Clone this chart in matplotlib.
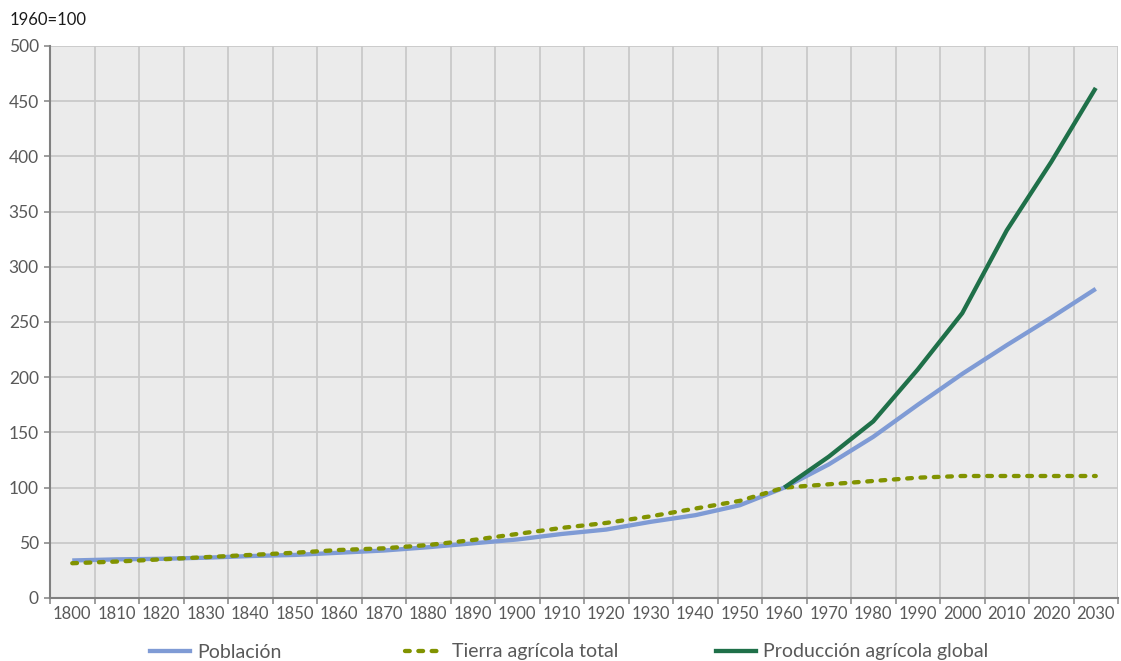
import matplotlib
matplotlib.use("Agg")
import matplotlib.pyplot as plt
from matplotlib.lines import Line2D

plt.rcParams['font.family'] = ['Lato', 'DejaVu Sans']

years = list(range(1800, 2031, 10))

poblacion = [34, 35, 35.5, 36.5, 38, 39, 41, 43, 46, 49.5, 53, 58, 62, 69, 75, 84,
             100, 121, 146, 175, 203, 229, 254, 280]
tierra = [31.5, 33, 35, 37, 39, 41, 43.5, 45, 48, 52.5, 58, 63.5, 68, 74, 81, 88,
          100, 103, 106, 109, 110.5, 110.5, 110.5, 110.5]
prod_years = [1960, 1970, 1980, 1990, 2000, 2010, 2020, 2030]
produccion = [100, 128, 160, 207, 258, 333, 395, 462]

c_pob = '#7F9BD5'
c_tierra = '#819300'
c_prod = '#1F7049'
txt_grey = '#595959'
dash = (0, (1.1, 2.0))
lw = 3.1

fig = plt.figure(figsize=(11.21, 6.61), dpi=100)
ax = fig.add_axes([50 / 1121, 1 - 598 / 661, 1068 / 1121, 552 / 661])
ax.set_facecolor('#EBEBEB')

xpos = [i + 0.5 for i in range(len(years))]
prod_x = [years.index(y) + 0.5 for y in prod_years]

ax.plot(xpos, poblacion, color=c_pob, lw=lw, solid_capstyle='butt', zorder=3)
ax.plot(xpos, tierra, color=c_tierra, lw=lw, linestyle=dash,
        dash_capstyle='round', zorder=4)
ax.plot(prod_x, produccion, color=c_prod, lw=lw, solid_capstyle='butt', zorder=5)

ax.set_xlim(0, len(years))
ax.set_ylim(0, 500)

# category boundaries carry the gridlines, centres carry the labels
ax.set_xticks(range(len(years) + 1))
ax.set_xticklabels([])
ax.set_xticks(xpos, minor=True)
ax.set_xticklabels([str(y) for y in years], minor=True)
ax.tick_params(axis='x', which='major', length=4, width=1.2, color='#8C8C8C', direction='out')
ax.tick_params(axis='x', which='minor', length=0, pad=6, labelsize=12, labelcolor=txt_grey)

ax.set_yticks(range(0, 501, 50))
ax.tick_params(axis='y', length=4, width=1.2, color='#8C8C8C', pad=4,
               labelsize=12.5, labelcolor=txt_grey)

ax.grid(True, which='major', color='#C9C9C9', lw=1.3)
ax.set_axisbelow(True)

for side in ('top', 'right'):
    ax.spines[side].set_visible(False)
for side in ('left', 'bottom'):
    ax.spines[side].set_color('#808080')
    ax.spines[side].set_linewidth(1.5)

fig.text(10 / 1121, 1 - 20 / 661, '1960=100', fontsize=12, color='#1A1A1A',
         va='center', ha='left')

entries = [
    (Line2D([], [], color=c_pob, lw=lw), 'Población', 150),
    (Line2D([], [], color=c_tierra, lw=lw, linestyle=dash,
            dash_capstyle='round'), 'Tierra agrícola total', 405),
    (Line2D([], [], color=c_prod, lw=lw), 'Producción agrícola global', 716),
]
for handle, label, xpix in entries:
    fig.legend([handle], [label], loc='center left',
               bbox_to_anchor=(xpix / 1121, 1 - 652 / 661), frameon=False,
               fontsize=14, handlelength=2.05, handletextpad=0.38,
               borderpad=0, borderaxespad=0, labelcolor=txt_grey)

fig.savefig('out.png', dpi=100)
